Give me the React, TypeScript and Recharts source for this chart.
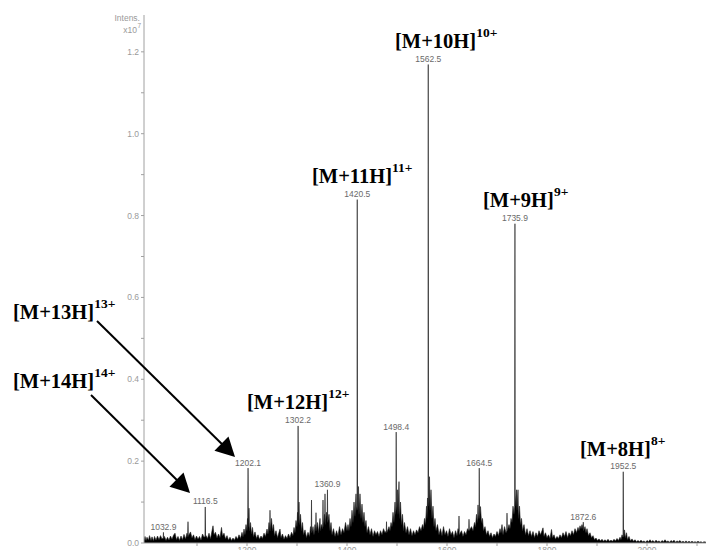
import React from 'react';
import { ComposedChart, Area, XAxis, YAxis, ReferenceDot } from 'recharts';

// m/z, intensity (x10^7)
const regionLow: number[][] = [
  [994, 0.008], [996, 0.016], [998, 0.006], [1000, 0.014], [1003, 0.007], [1005, 0.018], [1008, 0.006], [1010, 0.015],
  [1013, 0.005], [1015, 0.016], [1018, 0.007], [1021, 0.017], [1024, 0.008], [1027, 0.018], [1030, 0.01], [1032.3, 0.012],
  [1032.9, 0.026], [1033.5, 0.01], [1035, 0.016], [1038, 0.006], [1041, 0.014], [1044, 0.007], [1047, 0.017], [1050, 0.009],
  [1053, 0.019], [1056, 0.024], [1059, 0.008], [1062, 0.016], [1065, 0.006], [1068, 0.017], [1071, 0.008], [1074, 0.021],
  [1077, 0.01], [1080, 0.024], [1081.4, 0.015], [1082, 0.052], [1082.6, 0.016], [1084, 0.02], [1087, 0.027], [1090, 0.012],
  [1093, 0.02], [1096, 0.008], [1099, 0.017], [1102, 0.009], [1105, 0.016], [1108, 0.007], [1111, 0.022], [1114, 0.014],
  [1115.9, 0.016], [1116.5, 0.088], [1117.1, 0.015], [1118, 0.018], [1121, 0.011], [1124, 0.024], [1127, 0.01], [1130, 0.03],
  [1132, 0.042], [1134, 0.02], [1137, 0.026], [1140, 0.012], [1143, 0.022], [1146, 0.013], [1149, 0.038], [1151, 0.017],
  [1154, 0.024], [1157, 0.01], [1160, 0.018], [1163, 0.007], [1166, 0.014], [1169, 0.006], [1172, 0.012], [1175, 0.007],
  [1178, 0.016], [1181, 0.009], [1184, 0.02], [1187, 0.011], [1190, 0.026], [1192, 0.015], [1194, 0.034], [1196, 0.02],
];
const region13 = [
  [1198, 0.045], [1200, 0.03], [1201, 0.06], [1201.5, 0.04], [1202.1, 0.183], [1202.7, 0.04], [1204, 0.085], [1205, 0.03],
  [1207, 0.05], [1209, 0.022], [1211, 0.038], [1213, 0.015], [1216, 0.027], [1219, 0.011], [1222, 0.02], [1225, 0.009],
  [1228, 0.017], [1231, 0.011], [1234, 0.024], [1237, 0.016], [1240, 0.034], [1242, 0.022], [1244, 0.05], [1245.5, 0.03],
  [1246, 0.08], [1246.6, 0.03], [1249, 0.06], [1251, 0.03], [1253, 0.045], [1255, 0.018], [1258, 0.03], [1261, 0.013],
  [1264, 0.026], [1266, 0.034], [1268, 0.013], [1271, 0.022], [1274, 0.009], [1277, 0.018], [1280, 0.011], [1283, 0.022],
  [1286, 0.013], [1289, 0.026], [1292, 0.018], [1294, 0.038], [1296, 0.025],
];
const region12 = [
  [1298, 0.055], [1300, 0.04], [1301, 0.075], [1301.6, 0.05], [1302.2, 0.286], [1302.8, 0.05], [1304, 0.1], [1305, 0.045],
  [1307, 0.07], [1309, 0.03], [1311, 0.05], [1313, 0.02], [1316, 0.032], [1319, 0.013], [1322, 0.026], [1325, 0.016],
  [1327, 0.04], [1328.4, 0.03], [1329, 0.105], [1329.6, 0.025], [1332, 0.04], [1334, 0.02], [1336, 0.045], [1337.4, 0.03],
  [1338, 0.074], [1338.6, 0.03], [1341, 0.05], [1343, 0.025], [1346, 0.06], [1347, 0.03], [1349, 0.045], [1351, 0.035],
  [1351.5, 0.05], [1352, 0.105], [1352.6, 0.04], [1355, 0.07], [1355.5, 0.05], [1356, 0.12], [1356.6, 0.045], [1359, 0.075],
  [1360.4, 0.06], [1360.9, 0.13], [1361.5, 0.05], [1364, 0.07], [1366, 0.03], [1368, 0.05], [1370, 0.02], [1373, 0.035],
  [1376, 0.016], [1379, 0.03], [1382, 0.018], [1385, 0.04], [1388, 0.02], [1391, 0.035], [1394, 0.025], [1397, 0.05],
];
const region11 = [
  [1400, 0.03], [1402, 0.045], [1404, 0.03], [1406, 0.06], [1408, 0.04], [1410, 0.08], [1412, 0.05], [1414, 0.1],
  [1416, 0.065], [1418, 0.12], [1419, 0.08], [1420, 0.09], [1420.5, 0.839], [1421, 0.09], [1422, 0.08], [1423, 0.138],
  [1424, 0.07], [1426, 0.12], [1428, 0.06], [1430, 0.095], [1432, 0.05], [1434, 0.075], [1436, 0.04], [1438, 0.055],
  [1440, 0.025], [1443, 0.04], [1446, 0.02], [1449, 0.035], [1452, 0.016], [1455, 0.03], [1458, 0.02], [1461, 0.028],
  [1464, 0.016], [1467, 0.03], [1470, 0.02], [1473, 0.035], [1476, 0.025], [1478.5, 0.03], [1479, 0.052], [1479.6, 0.025],
  [1484, 0.04], [1486, 0.03],
];
const region10 = [
  [1488, 0.05], [1490, 0.04], [1492, 0.075], [1494, 0.05], [1496, 0.1], [1497, 0.07], [1497.9, 0.08], [1498.4, 0.271],
  [1498.9, 0.08], [1500, 0.09], [1501, 0.13], [1502, 0.07], [1504, 0.15], [1505, 0.06], [1507, 0.1], [1509, 0.045],
  [1511, 0.07], [1513, 0.03], [1515, 0.05], [1518, 0.025], [1521, 0.04], [1524, 0.02], [1527, 0.035], [1530, 0.018],
  [1533, 0.03], [1536, 0.02], [1539, 0.032], [1542, 0.025], [1545, 0.04], [1548, 0.03], [1551, 0.045], [1553, 0.035],
  [1555, 0.06], [1557, 0.045], [1559, 0.09], [1560, 0.06], [1561, 0.11], [1562, 0.09], [1562.5, 1.169], [1563, 0.09],
  [1564, 0.1], [1565, 0.162], [1566, 0.08], [1568, 0.13], [1570, 0.06], [1572, 0.09], [1574, 0.04], [1576, 0.06],
  [1578, 0.03], [1581, 0.045], [1584, 0.02], [1587, 0.035], [1590, 0.018], [1593, 0.04], [1596, 0.02], [1599, 0.03],
  [1602, 0.016], [1605, 0.035], [1608, 0.02], [1611, 0.028], [1614, 0.013], [1617, 0.03], [1620, 0.018], [1622, 0.035],
  [1623.5, 0.03], [1624, 0.066], [1624.6, 0.02], [1629, 0.03], [1632, 0.016], [1635, 0.028], [1638, 0.02], [1641, 0.035],
  [1643.5, 0.03], [1644, 0.058], [1644.6, 0.03], [1649, 0.04], [1652, 0.03],
];
const region9 = [
  [1655, 0.05], [1657, 0.04], [1659, 0.07], [1661, 0.05], [1662, 0.093], [1663, 0.06], [1664, 0.07], [1664.5, 0.183],
  [1665, 0.06], [1666, 0.07], [1667, 0.089], [1669, 0.05], [1671, 0.06], [1673, 0.03], [1676, 0.04], [1679, 0.02],
  [1682, 0.03], [1685, 0.016], [1688, 0.025], [1691, 0.013], [1694, 0.022], [1697, 0.016], [1700, 0.028], [1703, 0.018],
  [1706, 0.035], [1708, 0.025], [1710, 0.045], [1712, 0.02], [1715, 0.04], [1718, 0.025], [1719.5, 0.03], [1720, 0.073],
  [1720.6, 0.03], [1724, 0.045], [1726, 0.035], [1728, 0.06], [1730, 0.05], [1732, 0.09], [1734, 0.07], [1735.4, 0.09],
  [1735.9, 0.78], [1736.4, 0.09], [1737, 0.1], [1739, 0.13], [1740, 0.08], [1742, 0.13], [1743, 0.06], [1745, 0.09],
  [1747, 0.045], [1749, 0.06], [1751, 0.03], [1754, 0.045], [1757, 0.02], [1760, 0.035], [1763, 0.018], [1766, 0.03],
  [1769, 0.016], [1772, 0.028], [1775, 0.013], [1778, 0.025], [1781, 0.016], [1784, 0.03], [1787, 0.02], [1790, 0.03],
  [1792, 0.037], [1794, 0.016], [1797, 0.025], [1800, 0.013], [1803, 0.02], [1806, 0.011], [1809, 0.033], [1811, 0.013],
  [1814, 0.02], [1817, 0.009], [1820, 0.016], [1823, 0.011], [1826, 0.02],
];
const regionHigh = [
  [1829, 0.013], [1832, 0.025], [1835, 0.016], [1838, 0.028], [1841, 0.013], [1844, 0.025], [1847, 0.018], [1850, 0.03],
  [1853, 0.02], [1856, 0.035], [1859, 0.025], [1862, 0.038], [1864, 0.03], [1866, 0.042], [1868, 0.035], [1870, 0.045],
  [1872, 0.035], [1872.6, 0.051], [1873.2, 0.03], [1876, 0.04], [1878, 0.025], [1880, 0.035], [1883, 0.018], [1886, 0.025],
  [1889, 0.013], [1892, 0.018], [1895, 0.008], [1898, 0.012], [1901, 0.006], [1904, 0.01], [1907, 0.005], [1910, 0.009],
  [1913, 0.004], [1916, 0.008], [1919, 0.004], [1922, 0.009], [1925, 0.004], [1928, 0.007], [1931, 0.004], [1934, 0.009],
  [1937, 0.005], [1940, 0.011], [1943, 0.006], [1946, 0.014], [1948, 0.008], [1950, 0.02], [1952, 0.014], [1952.5, 0.174],
  [1953, 0.015], [1954, 0.015], [1955, 0.032], [1957, 0.012], [1959, 0.025], [1961, 0.008], [1964, 0.016], [1967, 0.005],
  [1970, 0.01], [1973, 0.004], [1976, 0.008], [1979, 0.003], [1982, 0.006], [1985, 0.003], [1988, 0.007], [1991, 0.003],
  [1994, 0.005], [1997, 0.002], [2000, 0.006], [2003, 0.003], [2006, 0.008], [2009, 0.003], [2012, 0.006], [2015, 0.002],
  [2018, 0.007], [2021, 0.003], [2024, 0.005], [2027, 0.002], [2030, 0.006], [2033, 0.003], [2036, 0.008], [2039, 0.003],
  [2042, 0.005], [2045, 0.002], [2048, 0.006], [2051, 0.003], [2054, 0.007], [2057, 0.002], [2060, 0.005], [2063, 0.003],
  [2066, 0.006], [2069, 0.002], [2072, 0.004], [2075, 0.002], [2078, 0.005], [2081, 0.002], [2084, 0.004], [2087, 0.002],
  [2090, 0.004], [2093, 0.002], [2096, 0.003], [2099, 0.002], [2102, 0.004], [2105, 0.002], [2108, 0.003], [2111, 0.001],
  [2114, 0.003], [2118, 0.002],
];

// labelled peaks: m/z, intensity
const peakLabels: number[][] = [
  [1032.9, 0.026], [1116.5, 0.088], [1202.1, 0.183], [1302.2, 0.286], [1360.9, 0.13], [1420.5, 0.839],
  [1498.4, 0.271], [1562.5, 1.169], [1664.5, 0.183], [1735.9, 0.78], [1872.6, 0.051], [1952.5, 0.174],
];

const yTicks = [0, 0.1, 0.2, 0.3, 0.4, 0.5, 0.6, 0.7, 0.8, 0.9, 1.0, 1.1, 1.2];
const xTicks = [1100, 1200, 1300, 1400, 1500, 1600, 1700, 1800, 1900, 2000, 2100];
const xLabelled = [1200, 1400, 1600, 1800, 2000];

const ionNames = ['[M+10H]', '[M+11H]', '[M+9H]', '[M+13H]', '[M+14H]', '[M+12H]', '[M+8H]'];
const ionCharges = ['10+', '11+', '9+', '13+', '14+', '12+', '8+'];
const ionPos = [[395, 48], [312, 183], [483, 207], [13, 319], [13, 388], [247, 409], [580, 456]];

const arrows = [
  { from: [97, 321], to: [235, 457] },
  { from: [91, 395], to: [190, 493] },
];

const spectrum = [...regionLow, ...region13, ...region12, ...region11, ...region10, ...region9, ...regionHigh].map(
  ([mz, i]) => ({ mz, i })
);

const sans = '"Liberation Sans", Arial, sans-serif';
const serif = '"Liberation Serif", "Times New Roman", serif';

const YTick = (props: any) => {
  const { x, y, payload } = props;
  const v = payload.value;
  if (Math.round(v * 10) % 2 !== 0) return <g />;
  return (
    <text x={x} y={y} dy="0.35em" textAnchor="end" fontSize={8.5} fill="#9a9a9a" fontFamily={sans}>
      {v.toFixed(1)}
    </text>
  );
};

const XTick = (props: any) => {
  const { x, y, payload } = props;
  if (!xLabelled.includes(payload.value)) return <g />;
  return (
    <text x={x} y={y} dy="0.71em" textAnchor="middle" fontSize={8.5} fill="#9a9a9a" fontFamily={sans}>
      {payload.value}
    </text>
  );
};

const Arrow = ({ from, to }: { from: number[]; to: number[] }) => {
  const dx = to[0] - from[0];
  const dy = to[1] - from[1];
  const len = Math.sqrt(dx * dx + dy * dy);
  const ux = dx / len;
  const uy = dy / len;
  const headLen = 19;
  const halfW = 10;
  const bx = to[0] - ux * headLen;
  const by = to[1] - uy * headLen;
  const nx = -uy;
  const ny = ux;
  const pts = `${to[0]},${to[1]} ${bx + nx * halfW},${by + ny * halfW} ${bx - nx * halfW},${by - ny * halfW}`;
  return (
    <g>
      <line x1={from[0]} y1={from[1]} x2={bx + ux * 2} y2={by + uy * 2} stroke="#000" strokeWidth={2} />
      <polygon points={pts} fill="#000" />
    </g>
  );
};

export default function App() {
  return (
    <div
      style={{ position: 'fixed', left: 0, top: 0, width: 706, height: 550, overflow: 'hidden', background: '#fff' }}
    >
      <ComposedChart width={706} height={570} data={spectrum} margin={{ top: 15, right: 0, bottom: 7, left: 0 }}>
        <XAxis
          dataKey="mz"
          type="number"
          domain={[994, 2118]}
          allowDataOverflow
          ticks={xTicks}
          interval={0}
          tick={<XTick />}
          tickSize={3}
          tickMargin={1}
          height={20}
          stroke="#a0a0a0"
          tickLine={{ stroke: '#a0a0a0' }}
        />
        <YAxis
          type="number"
          domain={[0, 1.29]}
          allowDataOverflow
          ticks={yTicks}
          interval={0}
          tick={<YTick />}
          tickSize={3}
          tickMargin={2}
          width={144}
          stroke="#a0a0a0"
          tickLine={{ stroke: '#a0a0a0' }}
        />
        <Area
          dataKey="i"
          type="linear"
          stroke="#1a1a1a"
          strokeWidth={0.6}
          fill="#000"
          fillOpacity={1}
          isAnimationActive={false}
          dot={false}
          activeDot={false}
        />
        {peakLabels.map(([mz, v]) => (
          <ReferenceDot
            key={mz}
            x={mz}
            y={v}
            r={0}
            shape={(p: any) => (
              <text
                x={p.cx}
                y={p.cy - 2.5}
                textAnchor="middle"
                fontSize={8.5}
                fill="#6a6a6a"
                fontFamily={sans}
              >
                {mz.toFixed(1)}
              </text>
            )}
          />
        ))}
      </ComposedChart>
      <svg
        width={706}
        height={550}
        style={{ position: 'absolute', left: 0, top: 0, pointerEvents: 'none' }}
      >
        <text x={140} y={21} textAnchor="end" fontSize={8.5} fill="#9a9a9a" fontFamily={sans}>
          Intens.
        </text>
        <text x={137} y={33} textAnchor="end" fontSize={8.5} fill="#9a9a9a" fontFamily={sans}>
          x10
        </text>
        <text x={137.5} y={28} textAnchor="start" fontSize={6.5} fill="#9a9a9a" fontFamily={sans}>
          7
        </text>
        {ionNames.map((name, k) => (
          <text
            key={name}
            x={ionPos[k][0]}
            y={ionPos[k][1]}
            fontFamily={serif}
            fontWeight="bold"
            fontSize={20.5}
            fill="#000"
          >
            {name}
            <tspan fontSize={13.5} dy={-11}>
              {ionCharges[k]}
            </tspan>
          </text>
        ))}
        {arrows.map((a, k) => (
          <Arrow key={k} from={a.from} to={a.to} />
        ))}
      </svg>
    </div>
  );
}
